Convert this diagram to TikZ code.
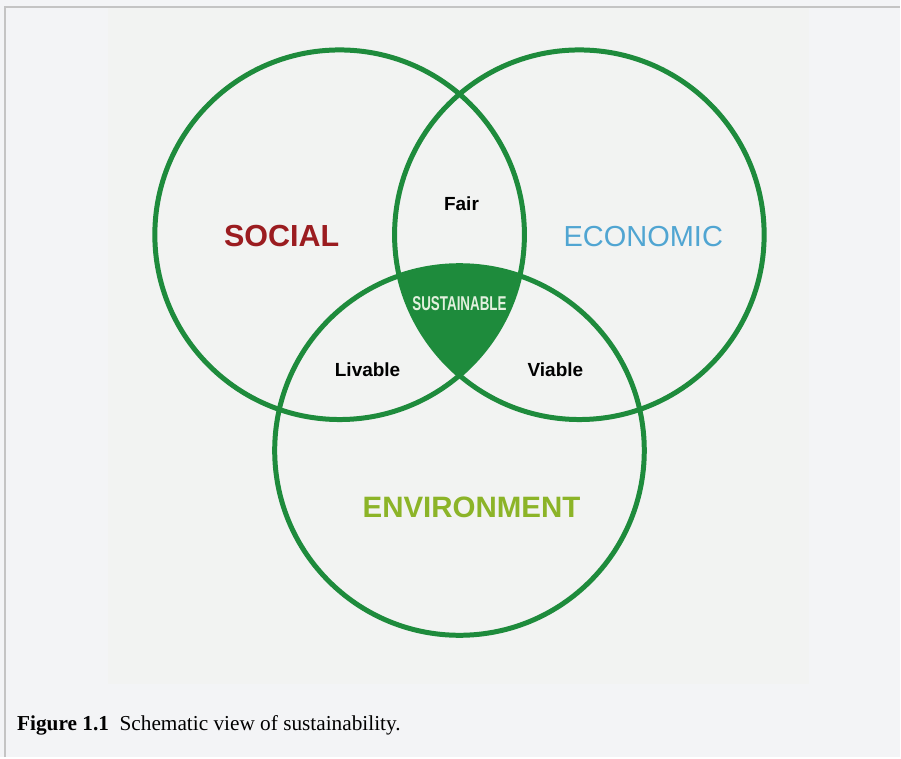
\documentclass[tikz,border=0pt]{standalone}
\usepackage{fontspec}
\setmainfont{Liberation Serif}
\newfontfamily\venfont{Liberation Sans}
\usepackage{xcolor}
\definecolor{ringgreen}{RGB}{30,139,60}
\definecolor{socialred}{RGB}{155,28,32}
\definecolor{econblue}{RGB}{80,165,210}
\definecolor{envgreen}{RGB}{140,180,40}
\definecolor{paleface}{RGB}{226,240,222}
\definecolor{pagebg}{RGB}{243,244,246}
\definecolor{plotbg}{RGB}{242,243,242}
\definecolor{framegray}{RGB}{196,196,196}

\begin{document}
\begin{tikzpicture}[x=1pt,y=-1pt,
  ring/.style={draw=ringgreen,line width=5pt},
  biglabel/.style={font=\venfont\fontsize{29}{31}\selectfont},
  smalllabel/.style={font=\venfont\bfseries\fontsize{19}{21}\selectfont,text=black}]
% page, figure area and frame
\fill[pagebg] (0,0) rectangle (901,758);
\fill[plotbg] (108,8) rectangle (810,685);
\draw[framegray,line width=2pt] (5,758) -- (5,7) -- (901,7);
\useasboundingbox (0,0) rectangle (901,758);
% circle centres
\coordinate (soc) at (340,235);
\coordinate (eco) at (580,235);
\coordinate (env) at (460,451);
% common part of all three
\begin{scope}
  \clip (soc) circle[radius=185pt];
  \clip (eco) circle[radius=185pt];
  \fill[ringgreen] (env) circle[radius=185pt];
\end{scope}
\draw[ring] (soc) circle[radius=185pt];
\draw[ring] (eco) circle[radius=185pt];
\draw[ring] (env) circle[radius=185pt];
% labels
\node[font=\venfont\bfseries\fontsize{30.5}{32}\selectfont,text=socialred] (social) at (282,236) {SOCIAL};
\node[biglabel,text=econblue] (economic) at (644,237) {ECONOMIC};
\node[font=\venfont\bfseries\fontsize{29.5}{31}\selectfont,text=envgreen] (environment) at (472,508) {ENVIRONMENT};
\node[smalllabel] (fair) at (462,204) {Fair};
\node[smalllabel] (livable) at (368,370) {Livable};
\node[smalllabel] (viable) at (556,370) {Viable};
\node[font=\venfont\bfseries\fontsize{20}{22}\selectfont,text=paleface] (sustainable) at (460,304) {\scalebox{0.67}[1]{SUSTAINABLE}};
% caption
\node[anchor=base west,inner sep=0pt,font=\fontsize{21.3}{23}\selectfont] (caption) at (17,731) {\textbf{Figure 1.1}\ \ Schematic view of sustainability.};
\end{tikzpicture}
\end{document}
